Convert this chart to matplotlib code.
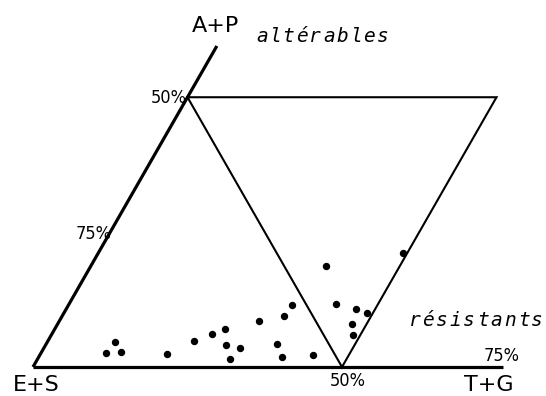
import numpy as np
import matplotlib
matplotlib.use("Agg")
import matplotlib.pyplot as plt

# samples: T+G and A+P percentages (E+S is the rest)
tg_pct = [10.5, 11.0, 12.9, 20.5, 23.6, 25.9, 27.5, 29.2, 31.7, 31.2, 32.3, 37.4,
          39.4, 35.8, 36.2, 44.2, 38.0, 43.2, 46.9, 49.1, 47.7, 48.8, 49.2]
ap_pct = [2.6, 4.6, 2.7, 2.5, 4.9, 6.2, 7.0, 4.1, 3.5, 1.5, 8.5, 4.2,
          1.9, 9.5, 11.5, 2.3, 18.7, 11.7, 10.8, 10.0, 7.9, 5.9, 21.2]

corner_labels = ["E+S", "T+G", "A+P"]
zone_labels = ["altérables", "résistants"]


def tern(t, a):
    # ternary -> cartesian (E+S corner at origin, unit base)
    t = np.asarray(t, dtype=float)
    a = np.asarray(a, dtype=float)
    return t + a / 2.0, a * np.sqrt(3) / 2.0


W, H = 546, 396
fig = plt.figure(figsize=(W / 100, H / 100), dpi=100)
ax = fig.add_axes([0, 0, 1, 1])
ax.set_xlim(-33 / 618, 513 / 618)
ax.set_ylim(-29 / 623, 367 / 623)
ax.axis("off")

# axes of the diagram (thick)
x, y = tern([0, 0], [0, 0.595])
ax.plot(x, y, color="black", lw=2.3, solid_capstyle="butt")
x, y = tern([0, 0.76], [0, 0])
ax.plot(x, y, color="black", lw=2.3, solid_capstyle="butt")

# 50% lines
x, y = tern([0, 0.5, 0.5, 0], [0.5, 0, 0.5, 0.5])
ax.plot(x, y, color="black", lw=1.5, solid_joinstyle="miter")

# points
x, y = tern(np.array(tg_pct) / 100, np.array(ap_pct) / 100)
ax.plot(x, y, "o", color="black", ms=4.3, mec="black")


def ftext(px, py, s, **kw):
    fig.text(px / W, 1 - py / H, s, **kw)


def spaced(px, py, s, step, **kw):
    # stencil lettering: fixed letter pitch
    for i, ch in enumerate(s):
        ftext(px + i * step + step / 2, py, ch, ha="center", **kw)


lab = dict(family="DejaVu Sans", fontsize=16, va="center")
ftext(36, 385, corner_labels[0], ha="center", **lab)
ftext(489, 385, corner_labels[1], ha="center", **lab)
ftext(215, 26, corner_labels[2], ha="center", **lab)

zl = dict(family="DejaVu Sans Mono", style="italic", fontsize=14, va="center")
spaced(255, 36, zone_labels[0], 13.4, **zl)
spaced(408, 321, zone_labels[1], 13.6, **zl)

pc = dict(family="DejaVu Sans", stretch="condensed", fontsize=13, va="center")
ftext(187, 98, "50%", ha="right", **pc)
ftext(112, 234, "75%", ha="right", **pc)
ftext(348, 381, "50%", ha="center", **pc)
ftext(502, 356, "75%", ha="center", **pc)

fig.savefig("out.png", dpi=100, facecolor="white")
